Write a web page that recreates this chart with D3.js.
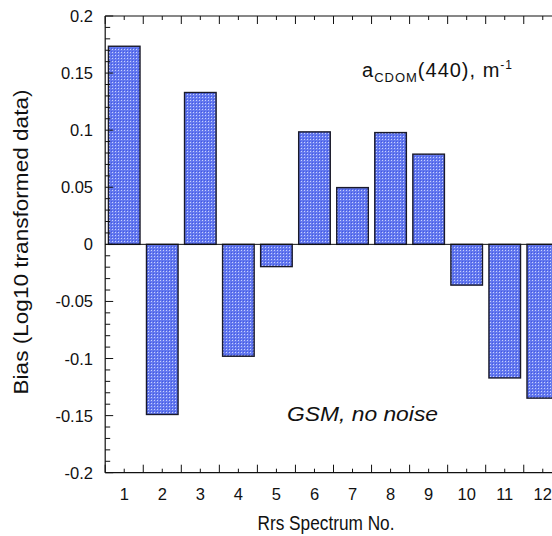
<!DOCTYPE html>
<html><head><meta charset="utf-8">
<script src="https://cdn.jsdelivr.net/npm/d3@7"></script>
<style>body{margin:0;background:#fff;} svg{display:block;} text{font-family:"Liberation Sans",Arial,sans-serif;fill:#111;}</style>
</head><body>
<svg id="c" width="552" height="536"></svg>
<script>
const spectra = [1,2,3,4,5,6,7,8,9,10,11,12];
const bias = [0.1735,-0.149,0.133,-0.098,-0.0195,0.0985,0.0497,0.0979,0.079,-0.0357,-0.117,-0.1347];
const yTicks = [-0.2,-0.15,-0.1,-0.05,0,0.05,0.1,0.15,0.2];
const yTickLabels = ["-0.2","-0.15","-0.1","-0.05","0","0.05","0.1","0.15","0.2"];

const svg = d3.select("#c");
const x = d3.scaleLinear().domain([0.5,12.5]).range([105.2,561.8]);
const y = d3.scaleLinear().domain([-0.2,0.2]).range([472.7,16]);
const barW = 0.83;

const defs = svg.append("defs");
const pat = defs.append("pattern").attr("id","hatch").attr("patternUnits","userSpaceOnUse")
  .attr("width",3).attr("height",3);
pat.append("rect").attr("width",3).attr("height",3).attr("fill","#6479ee");
pat.append("rect").attr("x",1).attr("y",1).attr("width",1).attr("height",1).attr("fill","#c8d0ff");
pat.append("rect").attr("x",0).attr("y",0).attr("width",1).attr("height",1).attr("fill","#4358e6");

svg.append("g").selectAll("rect").data(spectra).join("rect")
  .attr("x", (d)=>x(d-barW/2))
  .attr("width", x(barW)-x(0))
  .attr("y", (d,i)=>y(Math.max(0,bias[i])))
  .attr("height", (d,i)=>Math.abs(y(bias[i])-y(0)))
  .attr("fill","url(#hatch)")
  .attr("stroke","#1a1a2a").attr("stroke-width",1.4);

const g = svg.append("g");
const stroke = "#111";
g.append("line").attr("x1",x(0.5)).attr("x2",x(0.5)).attr("y1",y(-0.2)).attr("y2",y(0.2)).attr("stroke",stroke).attr("stroke-width",1.2);
g.append("line").attr("x1",x(0.5)).attr("x2",x(12.5)).attr("y1",y(-0.2)).attr("y2",y(-0.2)).attr("stroke",stroke).attr("stroke-width",1.2);
g.append("line").attr("x1",x(0.5)).attr("x2",x(12.5)).attr("y1",y(0.2)).attr("y2",y(0.2)).attr("stroke",stroke).attr("stroke-width",1.2);
g.append("line").attr("x1",x(0.5)).attr("x2",x(12.5)).attr("y1",y(0)).attr("y2",y(0)).attr("stroke",stroke).attr("stroke-width",1);

const yMinor = d3.range(-20,21).map(v=>v/100);
g.selectAll(".ym").data(yMinor).join("line")
  .attr("x1",x(0.5)).attr("x2",(d)=> (Math.round(d*100)%5===0)? x(0.5)+8 : x(0.5)+5)
  .attr("y1",(d)=>y(d)).attr("y2",(d)=>y(d)).attr("stroke",stroke).attr("stroke-width",1);
g.selectAll(".yl").data(yTicks).join("text")
  .attr("x",93).attr("y",(d)=>y(d)+6).attr("text-anchor","end").attr("font-size",16.5)
  .text((d,i)=>yTickLabels[i]);

const xMajor = d3.range(0,13).map(v=>v+0.5);
g.selectAll(".xmb").data(spectra).join("line")
  .attr("x1",(d)=>x(d)).attr("x2",(d)=>x(d)).attr("y1",y(-0.2)).attr("y2",y(-0.2)-4).attr("stroke",stroke);
g.selectAll(".xMb").data(xMajor).join("line")
  .attr("x1",(d)=>x(d)).attr("x2",(d)=>x(d)).attr("y1",y(-0.2)).attr("y2",y(-0.2)-8).attr("stroke",stroke);
g.selectAll(".xmt").data(spectra).join("line")
  .attr("x1",(d)=>x(d)).attr("x2",(d)=>x(d)).attr("y1",y(0.2)).attr("y2",y(0.2)+4).attr("stroke",stroke);
g.selectAll(".xMt").data(xMajor).join("line")
  .attr("x1",(d)=>x(d)).attr("x2",(d)=>x(d)).attr("y1",y(0.2)).attr("y2",y(0.2)+8).attr("stroke",stroke);
g.selectAll(".xl").data(spectra).join("text")
  .attr("x",(d)=>x(d)).attr("y",500).attr("text-anchor","middle").attr("font-size",16.5)
  .text((d)=>d);

svg.append("text").attr("x",326).attr("y",530).attr("text-anchor","middle").attr("font-size",19.5)
  .attr("textLength",137).attr("lengthAdjust","spacingAndGlyphs")
  .text("Rrs Spectrum No.");
svg.append("text").attr("transform","translate(28,242) rotate(-90)").attr("text-anchor","middle").attr("font-size",20)
  .attr("textLength",305).attr("lengthAdjust","spacingAndGlyphs")
  .text("Bias (Log10 transformed data)");

const ann = svg.append("text").attr("x",362).attr("y",77).attr("font-size",20).attr("letter-spacing",1);
ann.append("tspan").text("a");
ann.append("tspan").attr("font-size",13).attr("dy",5).text("CDOM");
ann.append("tspan").attr("dy",-5).text("(440), m");
ann.append("tspan").attr("font-size",12).attr("dy",-8).text("-1");
svg.append("text").attr("x",287).attr("y",421).attr("font-size",20).attr("font-style","italic")
  .attr("textLength",151).attr("lengthAdjust","spacingAndGlyphs")
  .text("GSM, no noise");
</script>
</body></html>
